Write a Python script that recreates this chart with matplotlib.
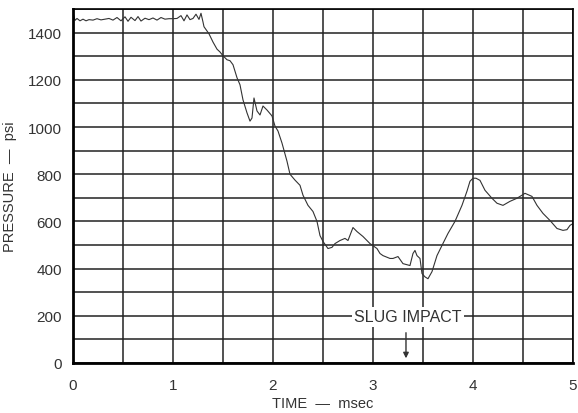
import matplotlib.pyplot as plt
import numpy as np

plt.rcParams['font.family'] = ['Liberation Sans', 'DejaVu Sans']

# time (msec) and pressure (psi)
time_ms = [0.00, 0.02, 0.04, 0.07, 0.10, 0.13, 0.16, 0.20, 0.24, 0.28, 0.32, 0.36,
           0.40, 0.44, 0.48, 0.52, 0.55, 0.58, 0.62, 0.65, 0.68, 0.72, 0.76, 0.80,
           0.84, 0.88, 0.92, 0.96, 1.00, 1.04, 1.08, 1.11, 1.14, 1.17, 1.20, 1.23,
           1.26, 1.28, 1.30, 1.31, 1.36, 1.40, 1.44, 1.47, 1.50, 1.54, 1.57, 1.60,
           1.64, 1.67, 1.70, 1.74, 1.77, 1.79, 1.81, 1.84, 1.87, 1.90, 1.94, 1.99,
           2.02, 2.05, 2.09, 2.14, 2.17, 2.19, 2.22, 2.27, 2.30, 2.35, 2.40, 2.44,
           2.47, 2.50, 2.55, 2.59, 2.62, 2.67, 2.72, 2.75, 2.80, 2.84, 2.90, 2.97,
           3.04, 3.07, 3.10, 3.17, 3.20, 3.25, 3.30, 3.37, 3.40, 3.42, 3.44, 3.47,
           3.49, 3.52, 3.55, 3.59, 3.64, 3.69, 3.75, 3.82, 3.89, 3.94, 3.97, 4.00,
           4.03, 4.07, 4.12, 4.19, 4.24, 4.30, 4.37, 4.44, 4.52, 4.59, 4.64, 4.70,
           4.77, 4.84, 4.90, 4.94, 4.97, 5.00]
pressure_psi = [1485, 1452, 1460, 1450, 1457, 1450, 1455, 1453, 1459, 1454, 1457, 1460,
                1453, 1464, 1450, 1467, 1448, 1465, 1451, 1468, 1449, 1461, 1455, 1462,
                1453, 1464, 1457, 1459, 1459, 1460, 1472, 1450, 1475, 1455, 1460, 1478,
                1456, 1482, 1445, 1425, 1395, 1360, 1330, 1318, 1302, 1285, 1281, 1264,
                1209, 1179, 1115, 1060, 1025, 1038, 1123, 1068, 1051, 1089, 1072, 1047,
                1004, 983, 932, 855, 800, 790, 775, 753, 711, 668, 642, 600,
                540, 515, 485, 490, 506, 519, 528, 519, 574, 557, 536, 506,
                485, 464, 455, 443, 443, 451, 421, 413, 464, 477, 455, 443,
                379, 365, 357, 387, 455, 498, 549, 600, 668, 728, 770, 783,
                783, 774, 732, 698, 677, 668, 685, 698, 719, 706, 668, 634,
                604, 570, 562, 565, 583, 591]

x_ticks = [0, 1, 2, 3, 4, 5]
y_ticks = [0, 200, 400, 600, 800, 1000, 1200, 1400]

fig = plt.figure(figsize=(5.78, 4.14), dpi=100)
ax = fig.add_axes([0.1263, 0.1208, 0.865, 0.855])

ax.plot(time_ms, pressure_psi, color='#333333', linewidth=0.8)

ax.set_xlim(0, 5)
ax.set_ylim(0, 1500)
ax.set_xticks(x_ticks)
ax.set_yticks(y_ticks)
ax.set_xticks(np.arange(0, 5.01, 0.5), minor=True)
ax.set_yticks(np.arange(0, 1501, 100), minor=True)
ax.grid(which='both', color='#222222', linewidth=1.1)
ax.set_axisbelow(True)
ax.tick_params(which='both', length=0, labelsize=11, colors='#333333')
ax.tick_params(axis='x', pad=11)
ax.tick_params(axis='y', pad=8)
for side in ['left', 'bottom']:
    ax.spines[side].set_linewidth(2)
for side in ['top', 'right']:
    ax.spines[side].set_linewidth(1.2)

ax.set_xlabel('TIME  —  msec', fontsize=10.5, color='#333333', labelpad=3)
ax.set_ylabel('PRESSURE  —  psi', fontsize=10.5, color='#333333', labelpad=8)

ax.text(3.35, 195, 'SLUG IMPACT', ha='center', va='center', fontsize=11.5,
        color='#333333', bbox=dict(facecolor='white', edgecolor='none', pad=1.5))
ax.annotate('', xy=(3.33, 8), xytext=(3.33, 140),
            arrowprops=dict(arrowstyle='-|>', color='#333333', lw=1, mutation_scale=8))

fig.savefig('out.png', dpi=100)
